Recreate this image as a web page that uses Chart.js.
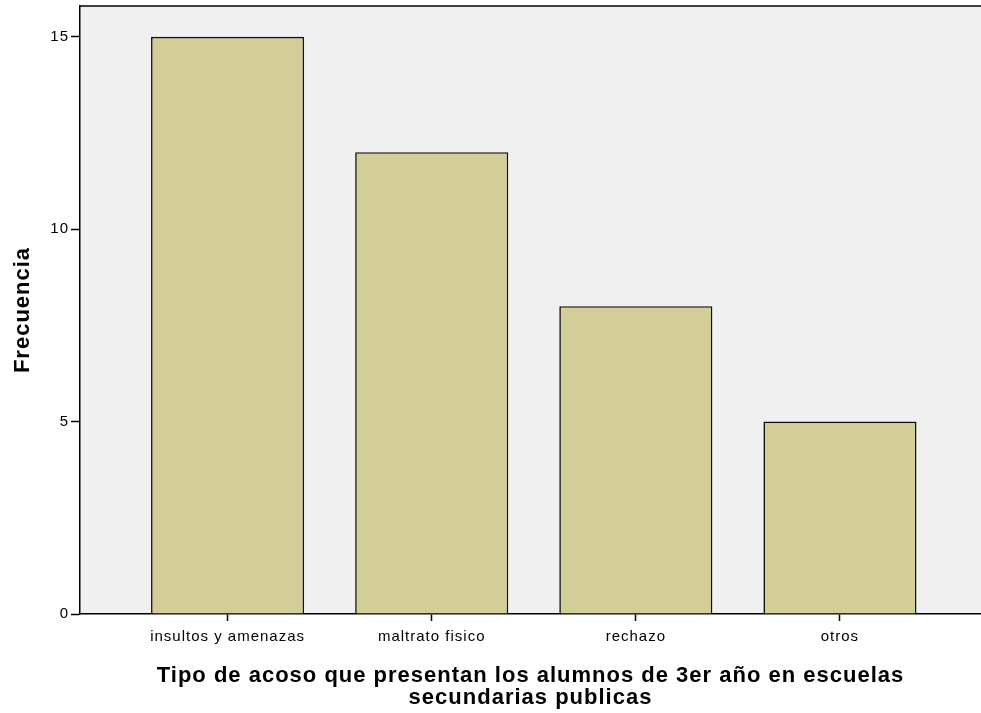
<!DOCTYPE html>
<html>
<head>
<meta charset="utf-8">
<script src="https://cdn.jsdelivr.net/npm/chart.js@4"></script>
<style>
  html, body { margin: 0; padding: 0; background: #fff; }
  #wrap { width: 981px; height: 713px; }
</style>
</head>
<body>
<div id="wrap"><canvas id="chart"></canvas></div>
<script>
const categories = ['insultos y amenazas', 'maltrato fisico', 'rechazo', 'otros'];
const frecuencia = [15, 12, 8, 5];
const yTicks = [0, 5, 10, 15];
const xTitle = ['Tipo de acoso que presentan los alumnos de 3er año en escuelas', 'secundarias publicas'];
const yTitle = 'Frecuencia';

// grey panel + top border, like the SPSS frame
const panel = {
    id: 'panel',
    beforeDraw(chart) {
        const { ctx, chartArea: a } = chart;
        ctx.letterSpacing = '1px';
        ctx.save();
        ctx.fillStyle = '#f0f0f0';
        ctx.fillRect(a.left, a.top, a.right - a.left, a.bottom - a.top);
        ctx.strokeStyle = '#000';
        ctx.lineWidth = 1.5;
        ctx.beginPath();
        ctx.moveTo(a.left, a.top);
        ctx.lineTo(a.right, a.top);
        ctx.stroke();
        ctx.restore();
    }
};

const font = 'Liberation Sans, Arial, sans-serif';

new Chart(document.getElementById('chart'), {
    type: 'bar',
    data: {
        datasets: [{
            data: frecuencia.map((v, i) => ({ x: i, y: v })),
            backgroundColor: '#d3ce98',
            borderColor: '#111',
            borderWidth: 1.6,
            categoryPercentage: 0.75,
            barPercentage: 1
        }]
    },
    options: {
        responsive: true,
        maintainAspectRatio: false,
        animation: false,
        layout: { padding: { top: 6, right: 0, left: 0, bottom: 0 } },
        plugins: { legend: { display: false }, tooltip: { enabled: false } },
        scales: {
            x: {
                type: 'linear',
                offset: false,
                min: -0.723,
                max: 3.691,
                afterBuildTicks: s => { s.ticks = categories.map((c, i) => ({ value: i })); },
                afterFit: s => { s.height = 99; s.paddingLeft = 0; s.paddingRight = 0; },
                ticks: {
                    color: '#000',
                    font: { family: font, size: 15 },
                    padding: 7,
                    maxRotation: 0,
                    autoSkip: false,
                    callback: v => categories[v]
                },
                grid: { offset: false, drawOnChartArea: false, tickLength: 7, color: '#000', tickWidth: 1.5 },
                border: { color: '#000', width: 1.5 },
                title: {
                    display: true,
                    text: xTitle,
                    color: '#000',
                    font: { family: font, size: 22, weight: 'bold', lineHeight: '22px' },
                    padding: { top: 8, bottom: 4 }
                }
            },
            y: {
                min: 0,
                max: 15.8,
                afterBuildTicks: s => { s.ticks = yTicks.map(v => ({ value: v })); },
                afterFit: s => { s.width = 80; s.paddingTop = 0; s.paddingBottom = 0; },
                ticks: {
                    color: '#000',
                    font: { family: font, size: 15 },
                    padding: 2
                },
                grid: { drawOnChartArea: false, tickLength: 9, color: '#000', tickWidth: 1.5 },
                border: { color: '#000', width: 1.5 },
                title: {
                    display: true,
                    text: yTitle,
                    color: '#000',
                    font: { family: font, size: 22, weight: 'bold' },
                    padding: { top: 10, bottom: 6 }
                }
            }
        }
    },
    plugins: [panel]
});
</script>
</body>
</html>
